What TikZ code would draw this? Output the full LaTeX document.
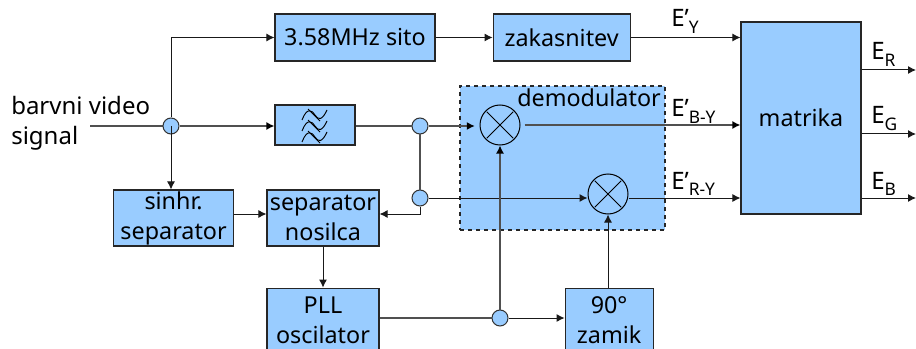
\documentclass[tikz,border=0pt]{standalone}
\usepackage{fontspec}
\usepackage{xcolor}
\usetikzlibrary{arrows.meta,positioning}
\setmainfont{Noto Sans}
\definecolor{blokblue}{HTML}{99CCFF}
\definecolor{linegray}{HTML}{505050}
\newcommand{\subtxt}[1]{\raisebox{-5pt}{\fontsize{13}{13}\selectfont #1}}
\tikzset{
  box/.style={draw=black!85, line width=0.85pt, fill=blokblue, inner sep=0pt, align=center, font=\fontsize{17.5}{22.5}\selectfont},
  mixer/.style={draw=black, line width=0.75pt, fill=none, circle, inner sep=0pt, minimum size=30pt,
    path picture={\draw[line width=0.6pt] ([shift={(-10pt,-10pt)}]path picture bounding box.center) -- ([shift={(10pt,10pt)}]path picture bounding box.center);
      \draw[line width=0.6pt] ([shift={(-10pt,10pt)}]path picture bounding box.center) -- ([shift={(10pt,-10pt)}]path picture bounding box.center);}},
  junction/.style={draw=black!80, line width=0.75pt, fill=blokblue, circle, inner sep=0pt, minimum size=12pt},
  label/.style={inner sep=0pt, anchor=base west, font=\fontsize{18}{22.5}\selectfont},
  line/.style={-{Latex[length=6pt,width=6pt]}, draw=black!90, line width=0.75pt},
  wire/.style={draw=linegray, line width=1.1pt},
  thickline/.style={-{Latex[length=6pt,width=6pt,color=black]}, draw=linegray, line width=1.1pt}
}
\begin{document}
\begin{tikzpicture}[x=0.75pt,y=-0.75pt]
  \path[use as bounding box] (0,0) rectangle (916,349);

  % blocks
  \node[box, minimum width=120pt, minimum height=35.25pt] (sito) at (355,37.5) {3.58MHz sito};
  \node[box, minimum width=102.75pt, minimum height=35.25pt, right=42.75pt of sito] (zak) {zakasnitev};
  \node[box, minimum width=60pt, minimum height=30pt] (filter) at (315,125) {};
  \node[box, minimum width=84pt, minimum height=42pt] (sepnos) at (323,218) {separator\\nosilca};
  \node[box, minimum width=90.4pt, minimum height=42pt, left=24pt of sepnos] (sinhr) {sinhr.\\separator};
  \node[box, minimum width=84pt, minimum height=48pt, below=30.75pt of sepnos] (pll) {PLL\\oscilator};
  \node[box, minimum width=66pt, minimum height=48pt, right=138.75pt of pll] (zamik) {90°\\zamik};
  \node[box, minimum width=90pt, minimum height=144pt] (matrika) at (801,118) {matrika};
  \node[box, dashed, minimum width=153.75pt, minimum height=108pt] (demod) at (562.5,158) {};
  \node[inner sep=0pt, anchor=base, font=\fontsize{17.5}{22.5}\selectfont] (demodtxt) at (589,107) {demodulator};

  % filter symbol
  \foreach \yy in {115,126,137} {
    \draw[line width=0.7pt] (302,\yy+5) .. controls (307,\yy-8) and (312,\yy-5) .. (315,\yy) .. controls (318,\yy+5) and (322,\yy+6) .. (327,\yy-5);
    \draw[line width=0.7pt] (308,\yy-6) -- (320,\yy+6);
  }

  % mixers and junctions
  \node[mixer] (mixb) at (500,125) {};
  \node[mixer] (mixr) at (608,194) {};
  \coordinate (vhod) at (90,126);
  \coordinate (er) at (916,70);
  \coordinate (eg) at (916,134);
  \coordinate (eb) at (916,198);
  \draw[wire] (vhod) -- (171,126);
  \node[junction] (j1) at (171,126) {};
  \node[junction] (j2) at (420,126) {};
  \node[junction] (j3) at (420,198) {};
  \node[junction] (j4) at (500,318) {};

  % connectors
  \draw[line] (j1.north) |- (sito.west);
  \draw[line] (j1.center) -- (j1 |- sinhr.north);
  \draw[thickline] (j1.east) -- (j1 -| filter.west);
  \draw[wire] (filter.east |- j2) -- (j2.west);
  \draw[wire] (j2.south) -- (j3.north);
  \draw[thickline, shorten >=3.5pt] (j2.east) -- (j2 -| mixb.west);
  \draw[line] (j3.east) -- (j3 -| mixr.west);
  \draw[line] (j3.south) |- ([yshift=3pt]sepnos.east);
  \draw[line] ([yshift=3pt]sinhr.east) -- ([yshift=3pt]sepnos.west);
  \draw[line] (sepnos.south) -- (pll.north);
  \draw[wire] (pll.east |- j4) -- (j4.west);
  \draw[line] (j4.east) -- (j4 -| zamik.west);
  \draw[thickline] (j4.north) -- (mixb.south);
  \draw[line] (zamik.north -| mixr) -- (mixr.south);
  \draw[line] (sito.east) -- (zak.west);
  \draw[line] (zak.east) -- (zak -| matrika.west);
  \draw[thickline, shorten <=3pt] (mixb.east) -- (mixb -| matrika.west);
  \draw[line] (mixr.east |- j3) -- (j3 -| matrika.west);
  \draw[line] (er -| matrika.east) -- (er);
  \draw[line] (eg -| matrika.east) -- (eg);
  \draw[line] (eb -| matrika.east) -- (eb);

  % labels
  \node[inner sep=0pt, anchor=west, align=left, font=\fontsize{18}{22.5}\selectfont] (signal) at (11,123) {barvni video\\signal};
  \node[label] (ly) at (671,27) {E’\subtxt{Y}};
  \node[label] (lby) at (671,117) {E’\subtxt{B-Y}};
  \node[label] (lry) at (671,189) {E’\subtxt{R-Y}};
  \node[label] (lr) at (871,60) {E\subtxt{R}};
  \node[label] (lg) at (871,124) {E\subtxt{G}};
  \node[label] (lb) at (871,189) {E\subtxt{B}};
\end{tikzpicture}
\end{document}
